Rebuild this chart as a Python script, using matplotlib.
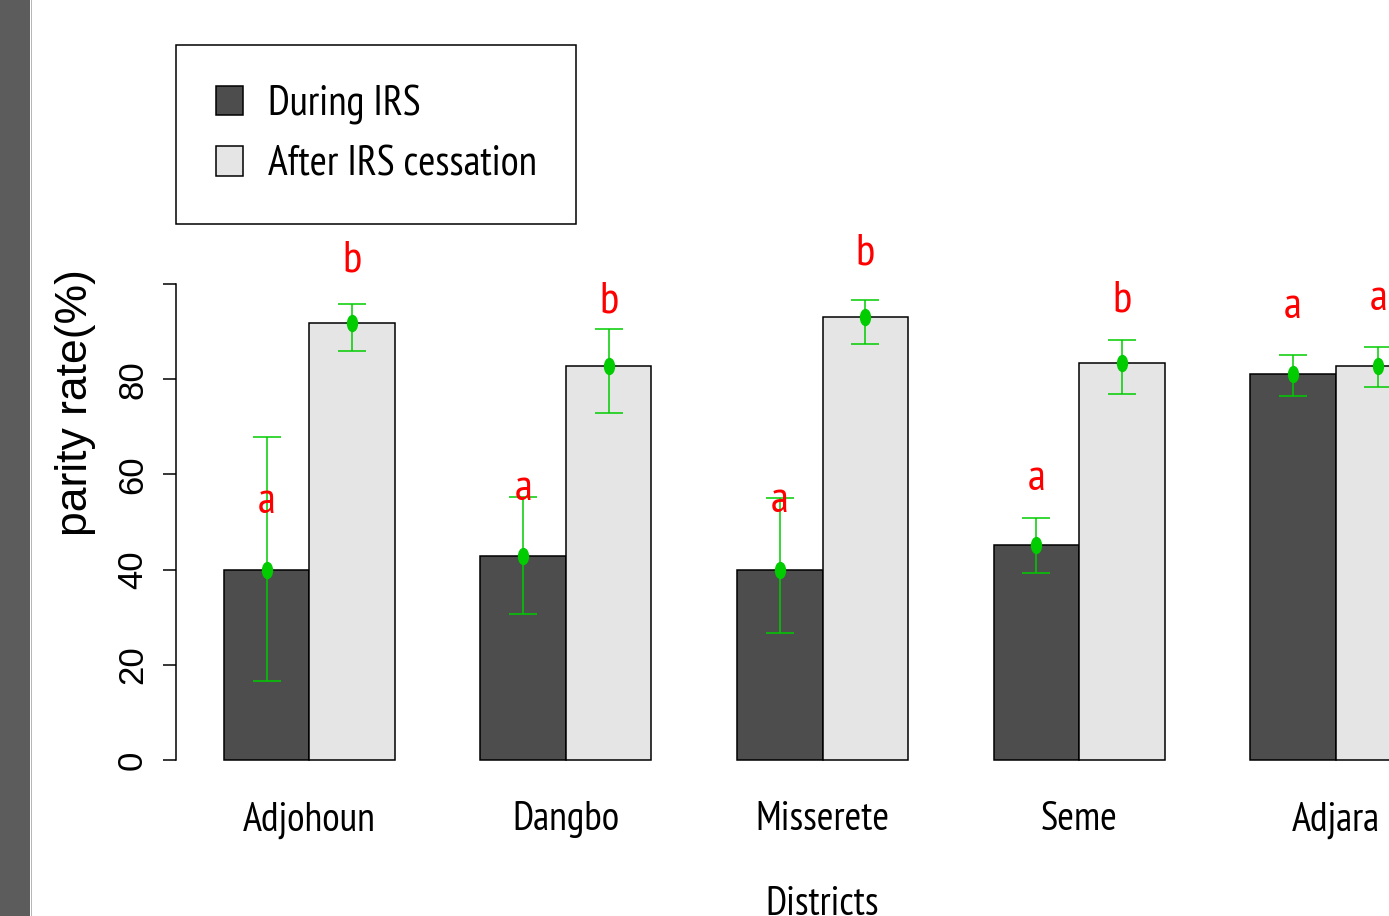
import matplotlib
matplotlib.use("Agg")
import matplotlib.pyplot as plt
from matplotlib.patches import Patch, Rectangle
from matplotlib.lines import Line2D
from matplotlib.markers import MarkerStyle
from matplotlib.transforms import Affine2D
import numpy as np

districts = ['Adjohoun', 'Dangbo', 'Misserete', 'Seme', 'Adjara']

# parity rate (%) with 95% CI bounds
during_irs = [40.0, 42.9, 40.0, 45.1, 81.0]
during_lo = [16.7, 30.7, 26.6, 39.2, 76.5]
during_hi = [67.9, 55.3, 55.0, 50.9, 85.1]
after_irs = [91.7, 82.8, 93.1, 83.3, 82.8]
after_lo = [86.0, 73.0, 87.3, 76.9, 78.3]
after_hi = [95.9, 90.5, 96.6, 88.2, 86.8]

# significance letters and the height they sit at
during_letters = ['a', 'a', 'a', 'a', 'a']
after_letters = ['b', 'b', 'b', 'b', 'a']
during_letter_y = [51.8, 54.6, 52.0, 56.7, 92.8]
after_letter_y = [102.6, 94.0, 104.0, 94.2, 94.5]

narrow = ['PT Sans Narrow', 'DejaVu Sans']
plain = ['Liberation Sans', 'DejaVu Sans']
dark = '#4d4d4d'
light = '#e5e5e5'
green = '#00cc00'

# barplot layout: bars of width 1, one empty slot between groups
grp = np.arange(len(districts)) * 3
x_during = grp + 1.5
x_after = grp + 2.5

W, H = 1389, 916
fig = plt.figure(figsize=(W / 100, H / 100), dpi=100)
ax = fig.add_axes([176 / W, (H - 788.6) / H, 1293 / W, 771.2 / H])
ax.set_xlim(0.44, 15.56)
ax.set_ylim(-6, 156)

ax.bar(x_during, during_irs, width=1, color=dark, edgecolor='black', linewidth=1.1, zorder=2)
ax.bar(x_after, after_irs, width=1, color=light, edgecolor='black', linewidth=1.1, zorder=2)

oval = MarkerStyle('o', transform=Affine2D().scale(0.62, 1.0))
for xs, m, lo, hi in [(x_during, during_irs, during_lo, during_hi),
                      (x_after, after_irs, after_lo, after_hi)]:
    m = np.array(m)
    yerr = [m - np.array(lo), np.array(hi) - m]
    ax.errorbar(xs, m, yerr=yerr, fmt='none', ecolor=green, elinewidth=1.1,
                capsize=10, capthick=1.1, zorder=3)
    ax.plot(xs, m, ls='none', marker=oval, ms=11.5, color=green, zorder=4)

for xs, letters, ys in [(x_during, during_letters, during_letter_y),
                        (x_after, after_letters, after_letter_y)]:
    for xi, t, yi in zip(xs, letters, ys):
        ax.text(xi, yi, t, color='red', ha='center', va='baseline',
                fontsize=32, family=narrow, zorder=5)

for s in ['top', 'right', 'bottom']:
    ax.spines[s].set_visible(False)
ax.spines['left'].set_bounds(0, 100)
ax.spines['left'].set_linewidth(1.1)

ax.set_yticks([0, 20, 40, 60, 80, 100])
ax.set_yticklabels(['0', '20', '40', '60', '80', ''], rotation=90, va='center',
                   family=plain, fontsize=25)
ax.tick_params(axis='y', length=9.4, width=1.1, pad=10)

ax.set_xticks(grp + 2)
ax.set_xticklabels(districts, family=narrow, fontsize=29)
ax.tick_params(axis='x', length=0, pad=9)

ax.set_xlabel('Districts', family=narrow, fontsize=29)
ax.xaxis.set_label_coords(0.5, -0.1265)
ax.set_ylabel('parity rate(%)', family=plain, fontsize=32)
ax.yaxis.set_label_coords(-0.0619, 0.5)

handles = [Patch(facecolor=dark, edgecolor='black', linewidth=1.1, label='During IRS'),
           Patch(facecolor=light, edgecolor='black', linewidth=1.1, label='After IRS cessation')]
leg = ax.legend(handles=handles, loc='upper left', bbox_to_anchor=(176 / W, 1 - 45 / H),
                bbox_transform=fig.transFigure, borderaxespad=0, fancybox=False,
                framealpha=1, edgecolor='black', prop={'family': narrow, 'size': 30},
                handlelength=0.65, handleheight=0.72, handletextpad=0.6,
                borderpad=0.95, labelspacing=0.5)
leg.get_frame().set_linewidth(1.1)

# dark strip down the left edge
fig.add_artist(Rectangle((0, 0), 30 / W, 1, transform=fig.transFigure,
                         facecolor='#5c5c5c', edgecolor='none'))
fig.add_artist(Line2D([30.5 / W] * 2, [0, 1], transform=fig.transFigure,
                      color='#b4b4b4', linewidth=0.7))

fig.savefig('out.png', dpi=100)
